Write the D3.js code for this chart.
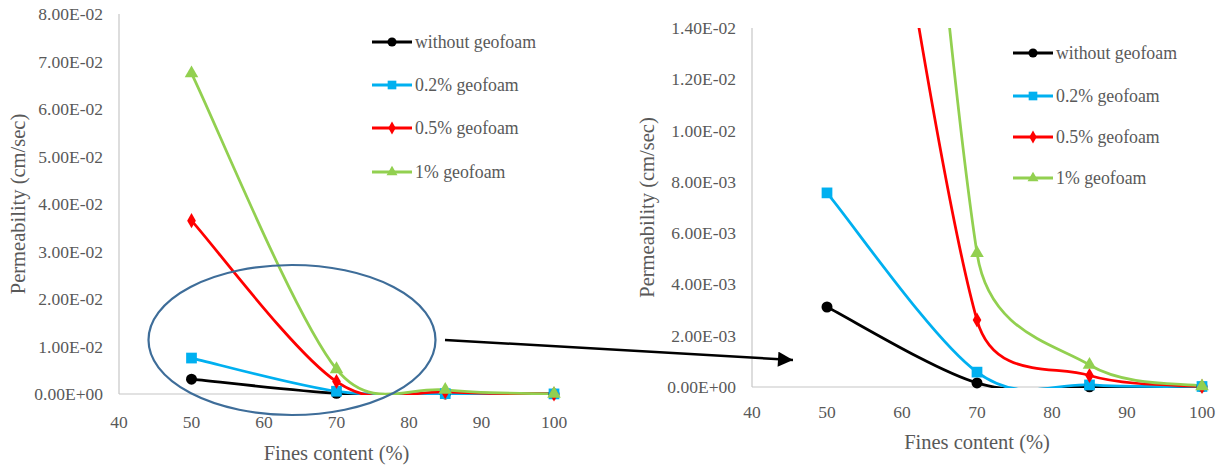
<!DOCTYPE html>
<html>
<head>
<meta charset="utf-8">
<script src="https://cdn.jsdelivr.net/npm/d3@7"></script>
<style>
  html, body { margin: 0; padding: 0; background: #fff; }
  svg { display: block; }
  svg text { font-family: "Liberation Serif", "Times New Roman", Times, "DejaVu Serif", serif; fill: #595959; }
</style>
</head>
<body>
<svg id="chart" width="1225" height="467"></svg>
<script>
// Fines content (%) on the x axis
const fines = [50, 70, 85, 100];

// Permeability (cm/sec) per mix
const withoutGeofoam = [0.00312, 0.00016, 0.00001, 0.00001];
const geofoam02 = [0.00757, 0.00058, 0.00008, 0.00002];
const geofoam05 = [0.0365, 0.00261, 0.00045, 0.00002];
const geofoam1 = [0.0675, 0.00522, 0.00086, 0.00003];

const seriesNames = ["without geofoam", "0.2% geofoam", "0.5% geofoam", "1% geofoam"];

// Axis ticks
const xTicks = [40, 50, 60, 70, 80, 90, 100];
const yTicksFull = [0, 0.01, 0.02, 0.03, 0.04, 0.05, 0.06, 0.07, 0.08];
const yTicksZoom = [0, 0.002, 0.004, 0.006, 0.008, 0.010, 0.012, 0.014];

const series = [
  { name: seriesNames[0], values: withoutGeofoam, color: "#000000", symbol: d3.symbolCircle, size: 95, legendSize: 65 },
  { name: seriesNames[1], values: geofoam02, color: "#00B0F0", symbol: d3.symbolSquare, size: 115, legendSize: 75 },
  { name: seriesNames[2], values: geofoam05, color: "#FF0000", symbol: d3.symbolDiamond, size: 65, legendSize: 48 },
  { name: seriesNames[3], values: geofoam1, color: "#92D050", symbol: d3.symbolTriangle, size: 80, legendSize: 52 }
];

// Scientific label in the "8.00E-02" style
function sci(v) {
  if (Math.abs(v) < 1e-12) return "0.00E+00";
  const [m, e] = v.toExponential(2).split("e");
  const n = +e;
  return m + "E" + (n < 0 ? "-" : "+") + String(Math.abs(n)).padStart(2, "0");
}

// Spreadsheet-style smoothed line (pixel space): Catmull-Rom tangents
// (P[i+1]-P[i-1])/6, with each control arm capped at half the segment length.
function smoothPath(pts) {
  const p = d3.path();
  const n = pts.length;
  const dist = (a, b) => Math.hypot(b[0] - a[0], b[1] - a[1]);
  p.moveTo(pts[0][0], pts[0][1]);
  for (let i = 0; i < n - 1; i++) {
    const P0 = pts[i - 1] || pts[i];
    const P1 = pts[i];
    const P2 = pts[i + 1];
    const P3 = pts[i + 2] || pts[i + 1];
    const d12 = dist(P1, P2);
    const d02 = dist(P0, P2);
    const d13 = dist(P1, P3);
    const f = d02 / 6 > d12 / 2 ? d12 / (2 * d02) : 1 / 6;
    const g = d13 / 6 > d12 / 2 ? d12 / (2 * d13) : 1 / 6;
    p.bezierCurveTo(
      P1[0] + (P2[0] - P0[0]) * f, P1[1] + (P2[1] - P0[1]) * f,
      P2[0] - (P3[0] - P1[0]) * g, P2[1] - (P3[1] - P1[1]) * g,
      P2[0], P2[1]
    );
  }
  return p.toString();
}

const svg = d3.select("#chart");

function drawPanel(cfg) {
  const g = svg.append("g");
  const x = d3.scaleLinear().domain([40, 100]).range([cfg.left, cfg.right]);
  const y = d3.scaleLinear().domain([0, cfg.yMax]).range([cfg.bottom, cfg.top]);

  // clip for the smoothed lines
  const clipId = "clip-" + cfg.id;
  svg.append("clipPath").attr("id", clipId)
    .append("rect")
    .attr("x", cfg.left).attr("y", cfg.top)
    .attr("width", cfg.right - cfg.left + 20)
    .attr("height", cfg.bottom - cfg.top + 1);

  // axis lines
  g.append("line")
    .attr("x1", cfg.left).attr("x2", cfg.left)
    .attr("y1", cfg.top).attr("y2", cfg.bottom)
    .attr("stroke", "#C6C6C6").attr("stroke-width", 1.2);
  g.append("line")
    .attr("x1", cfg.left).attr("x2", cfg.right + 4)
    .attr("y1", cfg.bottom).attr("y2", cfg.bottom)
    .attr("stroke", "#C6C6C6").attr("stroke-width", 1.2);

  // y tick labels
  g.selectAll(".ytick").data(cfg.yTicks).join("text")
    .attr("x", cfg.left - 16)
    .attr("y", d => y(d))
    .attr("text-anchor", "end")
    .attr("dominant-baseline", "central")
    .attr("font-size", "17.5px")
    .text(sci);

  // x tick labels
  g.selectAll(".xtick").data(xTicks).join("text")
    .attr("x", d => x(d))
    .attr("y", cfg.bottom + cfg.xLabelGap)
    .attr("text-anchor", "middle")
    .attr("dominant-baseline", "central")
    .attr("font-size", "17.5px")
    .text(d => d);

  // axis titles
  g.append("text")
    .attr("x", (cfg.left + cfg.right) / 2)
    .attr("y", cfg.xTitleY)
    .attr("text-anchor", "middle")
    .attr("dominant-baseline", "central")
    .attr("font-size", "20.5px")
    .text("Fines content (%)");
  g.append("text")
    .attr("transform", `translate(${cfg.yTitleX},${(cfg.top + cfg.bottom) / 2}) rotate(-90)`)
    .attr("text-anchor", "middle")
    .attr("dominant-baseline", "central")
    .attr("font-size", "20.5px")
    .text("Permeability (cm/sec)");

  // smoothed lines
  const lines = g.append("g").attr("clip-path", `url(#${clipId})`);
  series.forEach(s => {
    const pts = s.values.map((v, i) => [x(fines[i]), y(v)]);
    lines.append("path")
      .attr("d", smoothPath(pts))
      .attr("fill", "none")
      .attr("stroke", s.color)
      .attr("stroke-width", 2.75)
      .attr("stroke-linejoin", "round");
  });

  // markers
  series.forEach(s => {
    const sym = d3.symbol().type(s.symbol).size(s.size)();
    g.selectAll(null)
      .data(s.values.map((v, i) => ({ v, f: fines[i] })).filter(d => d.v <= cfg.yMax))
      .join("path")
      .attr("d", sym)
      .attr("transform", d => `translate(${x(d.f)},${y(d.v)})`)
      .attr("fill", s.color);
  });

  // legend
  series.forEach((s, i) => {
    const ly = cfg.legendY[i];
    const lg = g.append("g");
    lg.append("line")
      .attr("x1", cfg.legendX).attr("x2", cfg.legendX + 40)
      .attr("y1", ly).attr("y2", ly)
      .attr("stroke", s.color).attr("stroke-width", 3);
    lg.append("path")
      .attr("d", d3.symbol().type(s.symbol).size(s.legendSize)())
      .attr("transform", `translate(${cfg.legendX + 20},${ly})`)
      .attr("fill", s.color);
    lg.append("text")
      .attr("x", cfg.legendX + 43)
      .attr("y", ly)
      .attr("dominant-baseline", "central")
      .attr("font-size", "17.8px")
      .text(s.name);
  });
}

drawPanel({
  id: "full", left: 119, right: 554, top: 14, bottom: 394, yMax: 0.08,
  yTicks: yTicksFull, xLabelGap: 28, xTitleY: 453, yTitleX: 18,
  legendX: 372, legendY: [42, 85, 128, 172]
});

drawPanel({
  id: "zoom", left: 752, right: 1202, top: 28, bottom: 387, yMax: 0.014,
  yTicks: yTicksZoom, xLabelGap: 25, xTitleY: 442, yTitleX: 647,
  legendX: 1013, legendY: [53, 96, 137, 178]
});

// highlight ellipse around the low-permeability region
svg.append("ellipse")
  .attr("cx", 292).attr("cy", 340)
  .attr("rx", 143.5).attr("ry", 75)
  .attr("fill", "none")
  .attr("stroke", "#3E6D99")
  .attr("stroke-width", 2.2);

// arrow pointing to the enlarged view
svg.append("defs").append("marker")
  .attr("id", "arrowhead")
  .attr("viewBox", "0 0 10 10")
  .attr("refX", 10).attr("refY", 5)
  .attr("markerWidth", 6.5).attr("markerHeight", 6)
  .attr("markerUnits", "strokeWidth")
  .attr("orient", "auto")
  .append("path")
  .attr("d", "M0,0 L10,5 L0,10 Z")
  .attr("fill", "#000");

svg.append("line")
  .attr("x1", 445).attr("y1", 340)
  .attr("x2", 793).attr("y2", 360)
  .attr("stroke", "#000")
  .attr("stroke-width", 2.5)
  .attr("marker-end", "url(#arrowhead)");
</script>
</body>
</html>
